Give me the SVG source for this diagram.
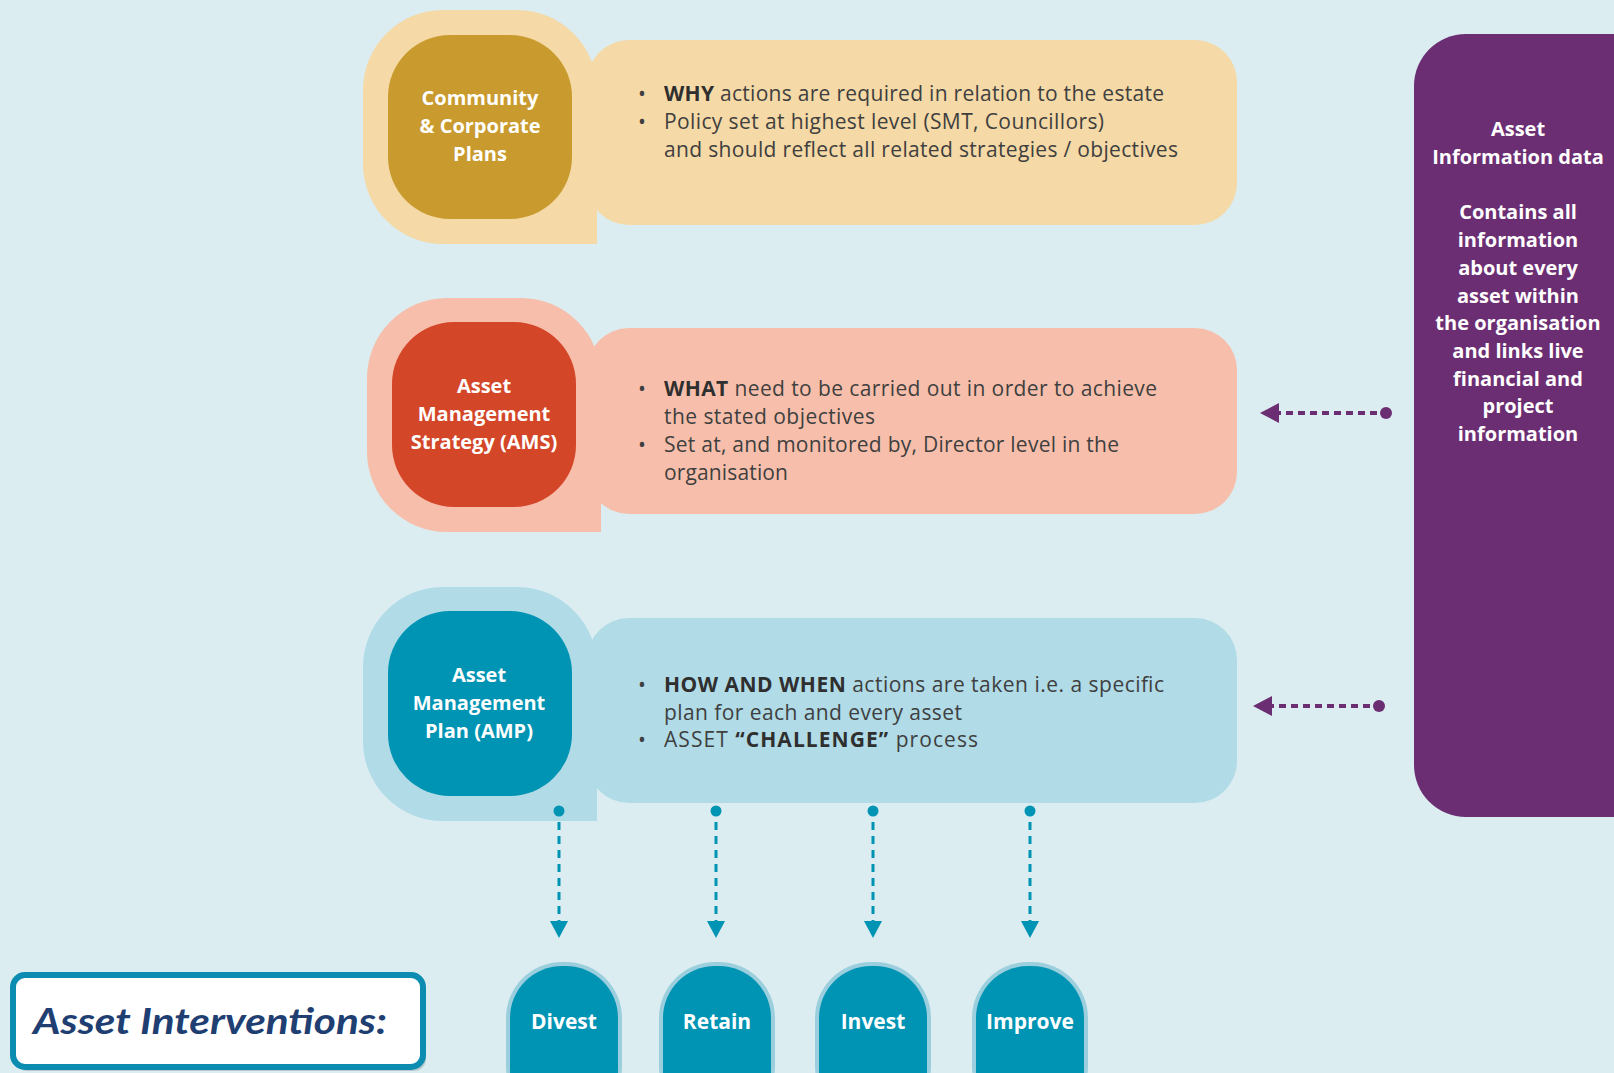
<svg xmlns="http://www.w3.org/2000/svg" width="1614" height="1073" viewBox="0 0 1614 1073">
<defs>
<style>
.body{font-family:"Open Sans","Liberation Sans",sans-serif;font-size:21px;fill:#3f3f3f}
.body .b{font-weight:700;fill:#2f2f2f}
.lbl{font-family:"Open Sans","Liberation Sans",sans-serif;font-size:20px;font-weight:700;fill:#ffffff;text-anchor:middle}
.big{font-size:21px}
.pur{stroke:#6c2e73;stroke-width:4;stroke-dasharray:7 5;fill:none}
.tea{stroke:#0094b4;stroke-width:3;stroke-dasharray:8 6;fill:none}
.purf{fill:#6c2e73}
.teaf{fill:#0094b4}
</style>
</defs>
<rect width="1614" height="1073" fill="#dbedf1"/>

<g id="node-community">
<path d="M 443 10 H 517 A 80 80 0 0 1 597 90 V 244 H 443 A 80 80 0 0 1 363 164 V 90 A 80 80 0 0 1 443 10 Z" fill="#f5d9a6"/>
<rect x="587" y="40" width="650" height="185" rx="42" fill="#f5d9a6"/>
<rect x="388" y="35" width="184" height="184" rx="62" fill="#c99b2e"/>
<text class="lbl"><tspan x="480" y="105">Community</tspan><tspan x="480" y="133">&amp; Corporate</tspan><tspan x="480" y="161">Plans</tspan></text>
<text class="body" x="638" y="101">•</text>
<text class="body" x="638" y="129">•</text>
<text class="body" x="664" y="101" textLength="500" lengthAdjust="spacing"><tspan class="b">WHY</tspan> actions are required in relation to the estate</text>
<text class="body" x="664" y="129" textLength="440" lengthAdjust="spacing">Policy set at highest level (SMT, Councillors)</text>
<text class="body" x="664" y="157" textLength="514" lengthAdjust="spacing">and should reflect all related strategies / objectives</text>
</g>

<g id="node-ams">
<path d="M 447 298 H 521 A 80 80 0 0 1 601 378 V 532 H 447 A 80 80 0 0 1 367 452 V 378 A 80 80 0 0 1 447 298 Z" fill="#f7bfab"/>
<rect x="587" y="328" width="650" height="186" rx="42" fill="#f7bfab"/>
<rect x="392" y="322" width="184" height="185" rx="62" fill="#d44628"/>
<text class="lbl"><tspan x="484" y="393">Asset</tspan><tspan x="484" y="421">Management</tspan><tspan x="484" y="449">Strategy (AMS)</tspan></text>
<text class="body" x="638" y="396">•</text>
<text class="body" x="638" y="452">•</text>
<text class="body" x="664" y="396" textLength="493" lengthAdjust="spacing"><tspan class="b">WHAT</tspan> need to be carried out in order to achieve</text>
<text class="body" x="664" y="424" textLength="211" lengthAdjust="spacing">the stated objectives</text>
<text class="body" x="664" y="452" textLength="455" lengthAdjust="spacing">Set at, and monitored by, Director level in the</text>
<text class="body" x="664" y="480" textLength="124" lengthAdjust="spacing">organisation</text>
</g>

<g id="node-amp">
<path d="M 443 587 H 517 A 80 80 0 0 1 597 667 V 821 H 443 A 80 80 0 0 1 363 741 V 667 A 80 80 0 0 1 443 587 Z" fill="#b0dbe7"/>
<rect x="587" y="618" width="650" height="185" rx="42" fill="#b0dbe7"/>
<rect x="388" y="611" width="184" height="185" rx="62" fill="#0094b4"/>
<text class="lbl"><tspan x="479" y="682">Asset</tspan><tspan x="479" y="710">Management</tspan><tspan x="479" y="738">Plan (AMP)</tspan></text>
<text class="body" x="638" y="692">•</text>
<text class="body" x="638" y="747">•</text>
<text class="body" x="664" y="692" textLength="500" lengthAdjust="spacing"><tspan class="b">HOW AND WHEN</tspan> actions are taken i.e. a specific</text>
<text class="body" x="664" y="720" textLength="298" lengthAdjust="spacing">plan for each and every asset</text>
<text class="body" x="664" y="747" textLength="314" lengthAdjust="spacing">ASSET <tspan class="b">“CHALLENGE”</tspan> process</text>
</g>

<g id="node-asset-info">
<rect x="1414" y="34" width="260" height="783" rx="52" fill="#6c2e73"/>
<text class="lbl"><tspan x="1518" y="136">Asset</tspan><tspan x="1518" y="164">Information data</tspan><tspan x="1518" y="219">Contains all</tspan><tspan x="1518" y="247">information</tspan><tspan x="1518" y="275">about every</tspan><tspan x="1518" y="303">asset within</tspan><tspan x="1518" y="330">the organisation</tspan><tspan x="1518" y="358">and links live</tspan><tspan x="1518" y="386">financial and</tspan><tspan x="1518" y="413">project</tspan><tspan x="1518" y="441">information</tspan></text>
</g>

<g id="connectors">
<circle class="purf" cx="1386" cy="413" r="6"/>
<line class="pur" x1="1377" y1="413" x2="1279" y2="413"/>
<polygon class="purf" points="1260,413 1279,403 1279,423"/>
<circle class="purf" cx="1379" cy="706" r="6"/>
<line class="pur" x1="1370" y1="706" x2="1272" y2="706"/>
<polygon class="purf" points="1253,706 1272,696 1272,716"/>

<circle class="teaf" cx="559" cy="811" r="5.5"/>
<line class="tea" x1="559" y1="822" x2="559" y2="921"/>
<polygon class="teaf" points="550,921 568,921 559,938"/>
<circle class="teaf" cx="716" cy="811" r="5.5"/>
<line class="tea" x1="716" y1="822" x2="716" y2="921"/>
<polygon class="teaf" points="707,921 725,921 716,938"/>
<circle class="teaf" cx="873" cy="811" r="5.5"/>
<line class="tea" x1="873" y1="822" x2="873" y2="921"/>
<polygon class="teaf" points="864,921 882,921 873,938"/>
<circle class="teaf" cx="1030" cy="811" r="5.5"/>
<line class="tea" x1="1030" y1="822" x2="1030" y2="921"/>
<polygon class="teaf" points="1021,921 1039,921 1030,938"/>
</g>

<g id="node-divest">
<rect x="506" y="962" width="116" height="160" rx="56" fill="#9ccfdd"/>
<rect x="510" y="966" width="108" height="160" rx="52" fill="#0094b4"/>
<text class="lbl big" x="564" y="1029">Divest</text>
</g>
<g id="node-retain">
<rect x="659" y="962" width="116" height="160" rx="56" fill="#9ccfdd"/>
<rect x="663" y="966" width="108" height="160" rx="52" fill="#0094b4"/>
<text class="lbl big" x="717" y="1029">Retain</text>
</g>
<g id="node-invest">
<rect x="815" y="962" width="116" height="160" rx="56" fill="#9ccfdd"/>
<rect x="819" y="966" width="108" height="160" rx="52" fill="#0094b4"/>
<text class="lbl big" x="873" y="1029">Invest</text>
</g>
<g id="node-improve">
<rect x="972" y="962" width="116" height="160" rx="56" fill="#9ccfdd"/>
<rect x="976" y="966" width="108" height="160" rx="52" fill="#0094b4"/>
<text class="lbl big" x="1030" y="1029">Improve</text>
</g>

<g id="node-interventions">
<rect x="15" y="978" width="411" height="93" rx="12" fill="#9aa5a8" opacity="0.5"/>
<rect x="13" y="975" width="410" height="92" rx="12" fill="#ffffff" stroke="#0b8cb0" stroke-width="6"/>
<text x="33" y="1034" font-family="Lato,'Open Sans',sans-serif" font-size="36" font-weight="700" font-style="italic" fill="#1f3f73" textLength="354" lengthAdjust="spacingAndGlyphs">Asset Interventions:</text>
</g>
</svg>
